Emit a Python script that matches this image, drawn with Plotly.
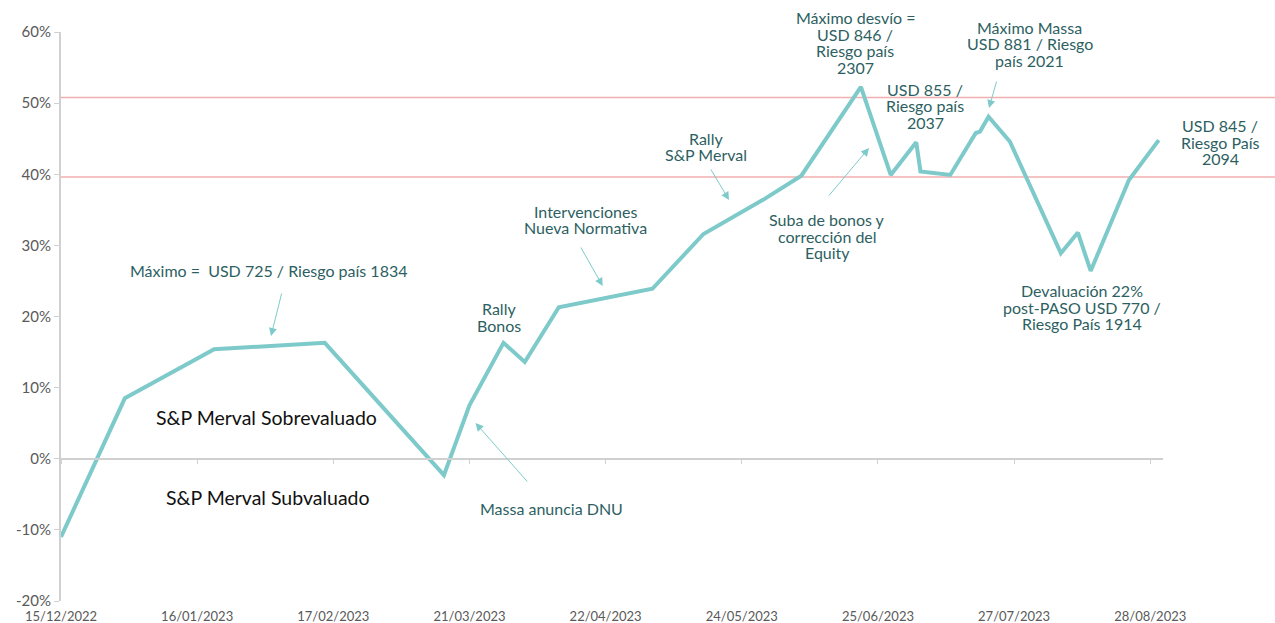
import plotly.graph_objects as go

# serie: desvío S&P Merval (%)
fechas = ["2022-12-15", "2022-12-30", "2023-01-20", "2023-02-15", "2023-03-15",
          "2023-03-21", "2023-03-29", "2023-04-03", "2023-04-11", "2023-05-03",
          "2023-05-15", "2023-05-29", "2023-06-07", "2023-06-21", "2023-06-28",
          "2023-07-04", "2023-07-05", "2023-07-12", "2023-07-18", "2023-07-19",
          "2023-07-21", "2023-07-26", "2023-08-07", "2023-08-11", "2023-08-14",
          "2023-08-23", "2023-08-30"]
desvio = [-11.0, 8.5, 15.4, 16.3, -2.3,
          7.5, 16.3, 13.6, 21.3, 23.9,
          31.6, 36.4, 39.8, 52.3, 39.9,
          44.5, 40.4, 39.9, 45.8, 46.0,
          48.1, 44.6, 28.9, 31.8, 26.4,
          39.2, 44.8]

bandas = [50.8, 39.6]

x_ticks = ["2022-12-15", "2023-01-16", "2023-02-17", "2023-03-21", "2023-04-22",
           "2023-05-24", "2023-06-25", "2023-07-27", "2023-08-28"]
x_labels = ["15/12/2022", "16/01/2023", "17/02/2023", "21/03/2023", "22/04/2023",
            "24/05/2023", "25/06/2023", "27/07/2023", "28/08/2023"]
y_ticks = [-20, -10, 0, 10, 20, 30, 40, 50, 60]
y_labels = ["-20%", "-10%", "0%", "10%", "20%", "30%", "40%", "50%", "60%"]

W, H = 1275, 623
L, R, T, B = 61, 112, 32, 22
PW, PH = W - L - R, H - T - B

TEAL = "#7ecaca"
TXT = "#2d5f62"
FONT = "Lato"


def paper(px, py):
    return (px - L) / PW, (H - B - py) / PH


fig = go.Figure()
fig.add_trace(go.Scatter(x=fechas, y=desvio, mode="lines",
                         line=dict(color=TEAL, width=4), showlegend=False,
                         hoverinfo="skip"))
# eje auxiliar para la línea del 0%
fig.add_trace(go.Scatter(x=[fechas[0]], y=[0], xaxis="x2", mode="markers",
                         marker=dict(opacity=0), showlegend=False, hoverinfo="skip"))

for b in bandas:
    fig.add_shape(type="line", xref="paper", yref="y", x0=-0.001, x1=(W - L) / PW,
                  y0=b, y1=b, line=dict(color="#f2afaf", width=1.5), layer="below")

# textos (centro en píxeles, una línea por anotación)
textos = [
    (["Máximo =  USD 725 / Riesgo país 1834"], 269, 270),
    (["Rally", "Bonos"], 499, 317),
    (["Massa anuncia DNU"], 551, 508),
    (["Intervenciones", "Nueva Normativa"], 585, 219.5),
    (["Rally", "S&P Merval"], 706, 146.5),
    (["Suba de bonos y", "corrección del", "Equity"], 827, 236.5),
    (["Máximo desvío =", "USD 846 /", "Riesgo país", "2307"], 855, 42.5),
    (["USD 855 /", "Riesgo país", "2037"], 925, 106),
    (["Máximo Massa", "USD 881 / Riesgo", "país 2021"], 1029.5, 44),
    (["Devaluación 22%", "post-PASO USD 770 /", "Riesgo País 1914"], 1082, 307),
    (["USD 845 /", "Riesgo País", "2094"], 1220, 142),
]
LH = 16.5
for lineas, cx, cy in textos:
    n = len(lineas)
    for i, t in enumerate(lineas):
        yy = cy + (i - (n - 1) / 2) * LH
        xp, yp = paper(cx, yy)
        fig.add_annotation(x=xp, y=yp, xref="paper", yref="paper", text=t,
                           showarrow=False, xanchor="center", yanchor="middle",
                           borderpad=0,
                           font=dict(family=FONT, size=16, color=TXT))

for t, cx, cy in [("S&P Merval Sobrevaluado", 266.5, 417), ("S&P Merval Subvaluado", 268, 497)]:
    xp, yp = paper(cx, cy)
    fig.add_annotation(x=xp, y=yp, xref="paper", yref="paper", text=t,
                       showarrow=False, xanchor="center", yanchor="middle",
                       font=dict(family=FONT, size=19.5, color="#111111"))

# flechas (cola -> punta, píxeles)
flechas = [
    (282, 292, 271, 336),
    (528.6, 483, 475.5, 423),
    (580, 246, 602.7, 286),
    (710, 168, 729, 200),
    (827.7, 197, 869, 148),
    (997, 80, 989, 108),
]
for tx, ty, hx, hy in flechas:
    xp, yp = paper(hx, hy)
    fig.add_annotation(x=xp, y=yp, xref="paper", yref="paper", text="",
                       showarrow=True, ax=tx - hx, ay=ty - hy,
                       arrowhead=2, arrowsize=1.6, arrowwidth=1, arrowcolor=TEAL)

fig.update_layout(
    width=W, height=H,
    margin=dict(l=L, r=R, t=T, b=B, autoexpand=False),
    plot_bgcolor="white", paper_bgcolor="white",
    font=dict(family=FONT, color="#595959"),
    xaxis=dict(type="date", range=["2022-12-15", "2023-08-31"], automargin=False,
               tickvals=x_ticks, ticktext=x_labels, tickfont=dict(size=13, color="#595959"),
               showgrid=False, zeroline=False, showline=False, ticks="",
               ticklabelstandoff=6),
    xaxis2=dict(type="date", overlaying="x", matches="x", anchor="free", position=0.25,
                automargin=False,
                tickvals=x_ticks, showticklabels=False, showgrid=False, zeroline=False,
                showline=True, linecolor="#d0d0d0", linewidth=2,
                ticks="outside", ticklen=4, tickcolor="#d0d0d0", tickwidth=1),
    yaxis=dict(range=[-20, 60], tickvals=y_ticks, ticktext=y_labels, automargin=False,
               tickfont=dict(size=15, color="#595959"),
               showgrid=False, zeroline=False, showline=True, linecolor="#d0d0d0",
               linewidth=2, ticks="outside", ticklen=5, tickcolor="#d0d0d0"),
)

fig.write_html("out.html", config={"displayModeBar": False},
               post_script="document.body.style.margin='0';")
